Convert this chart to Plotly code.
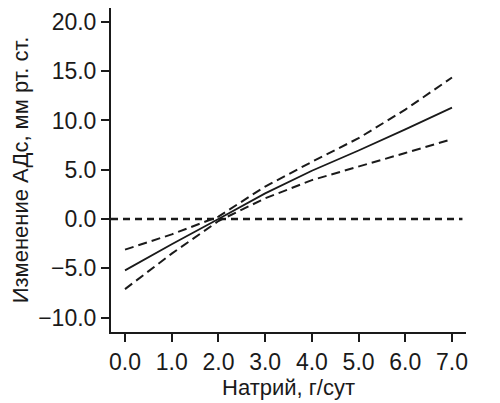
import plotly.graph_objects as go

# Sodium intake, g/day
sodium = [0, 1, 2, 3, 4, 5, 6, 7]
# Change in systolic BP, mmHg: estimate and 95% CI
estimate = [-5.2, -2.55, 0.0, 2.6, 4.9, 6.95, 9.1, 11.3]
upper_ci = [-3.1, -1.55, 0.25, 3.3, 5.8, 8.2, 11.1, 14.35]
lower_ci = [-7.1, -3.5, -0.2, 2.1, 3.95, 5.3, 6.7, 8.1]

x_ticks = [0, 1, 2, 3, 4, 5, 6, 7]
y_ticks = [-10, -5, 0, 5, 10, 15, 20]

ink = "#1a1a1a"
font = "Liberation Sans, Arial, sans-serif"

fig = go.Figure()

for ci in (upper_ci, lower_ci):
    fig.add_trace(go.Scatter(
        x=sodium, y=ci, mode="lines",
        line=dict(color=ink, width=2, dash="9px,5px"),
        showlegend=False, hoverinfo="skip",
    ))

fig.add_trace(go.Scatter(
    x=sodium, y=estimate, mode="lines",
    line=dict(color=ink, width=1.8),
    showlegend=False,
))

# reference line at zero
fig.add_hline(y=0, x0=0, x1=0.99, line=dict(color=ink, width=2.5, dash="7px,5px"))

axis_common = dict(
    showline=True, linecolor=ink, linewidth=2,
    ticks="outside", ticklen=8, tickwidth=2, tickcolor=ink,
    showgrid=False, zeroline=False, tickformat=".1f",
    tickfont=dict(size=23, color=ink, family=font),
)

# page body adds an 8px offset, margins account for it
fig.update_layout(
    width=500, height=403,
    margin=dict(l=103, r=42, t=0, b=79),
    plot_bgcolor="white", paper_bgcolor="white",
    font=dict(family=font, color=ink),
    xaxis=dict(
        range=[-0.3, 7.3], tickvals=x_ticks,
        title=dict(text="Натрий, г/сут", font=dict(size=22), standoff=6),
        **axis_common,
    ),
    yaxis=dict(
        range=[-11.45, 21.4], tickvals=y_ticks,
        title=dict(text="Изменение АДс, мм рт. ст.", font=dict(size=22), standoff=4),
        **axis_common,
    ),
)

fig.write_html("out.html")
